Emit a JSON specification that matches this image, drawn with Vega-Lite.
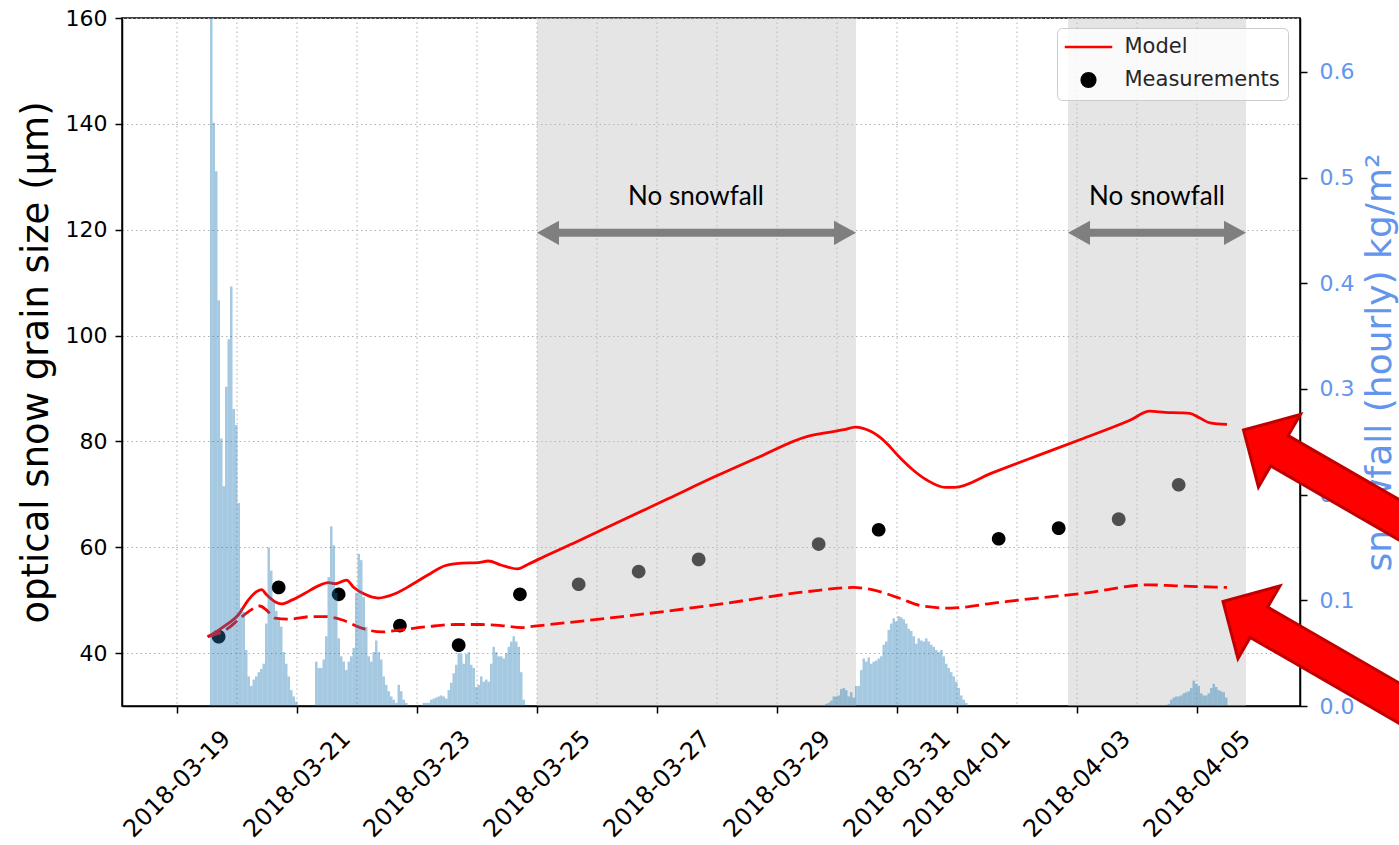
{
  "$schema": "https://vega.github.io/schema/vega-lite/v6.json",
  "width": 1178,
  "height": 688,
  "autosize": {"type": "none"},
  "padding": {"left": 122, "top": 18, "right": 99, "bottom": 139},
  "background": "white",
  "config": {
    "font": "DejaVu Sans",
    "view": {"stroke": "#000000", "strokeWidth": 1.5},
    "axis": {
      "labelFont": "DejaVu Sans",
      "titleFont": "DejaVu Sans",
      "titleFontWeight": "normal",
      "labelColor": "#000000",
      "titleColor": "#000000",
      "domainColor": "#000000",
      "tickColor": "#000000",
      "domainWidth": 1.5,
      "tickWidth": 1.5,
      "titleLimit": 2000,
      "zindex": 0
    }
  },
  "datasets": {
    "days": [
      {"day": "2018-03-19T00:00"}, {"day": "2018-03-20T00:00"}, {"day": "2018-03-21T00:00"},
      {"day": "2018-03-22T00:00"}, {"day": "2018-03-23T00:00"}, {"day": "2018-03-24T00:00"},
      {"day": "2018-03-25T00:00"}, {"day": "2018-03-26T00:00"}, {"day": "2018-03-27T00:00"},
      {"day": "2018-03-28T00:00"}, {"day": "2018-03-29T00:00"}, {"day": "2018-03-30T00:00"},
      {"day": "2018-03-31T00:00"}, {"day": "2018-04-01T00:00"}, {"day": "2018-04-02T00:00"},
      {"day": "2018-04-03T00:00"}, {"day": "2018-04-04T00:00"}, {"day": "2018-04-05T00:00"}
    ],
    "dry": [
      {"start": "2018-03-25T00:00", "end": "2018-03-30T07:36"},
      {"start": "2018-04-02T20:24", "end": "2018-04-05T19:36"}
    ],
    "notes": [
      {"t": "2018-03-27T15:36", "label": "No snowfall"},
      {"t": "2018-04-04T08:00", "label": "No snowfall"}
    ],
    "pointers": [
      {"t": "2018-04-05T18:36", "grain": 82.15},
      {"t": "2018-04-05T10:24", "grain": 49.75}
    ],
    "measured": [
      {"t": "2018-03-19T16:40", "grain": 43.1, "series": "Measurements"},
      {"t": "2018-03-20T16:40", "grain": 52.4, "series": "Measurements"},
      {"t": "2018-03-21T16:40", "grain": 51.1, "series": "Measurements"},
      {"t": "2018-03-22T17:10", "grain": 45.2, "series": "Measurements"},
      {"t": "2018-03-23T16:40", "grain": 41.5, "series": "Measurements"},
      {"t": "2018-03-24T17:10", "grain": 51.1, "series": "Measurements"},
      {"t": "2018-03-25T16:40", "grain": 53.0, "series": "Measurements"},
      {"t": "2018-03-26T16:40", "grain": 55.4, "series": "Measurements"},
      {"t": "2018-03-27T16:40", "grain": 57.7, "series": "Measurements"},
      {"t": "2018-03-29T16:40", "grain": 60.6, "series": "Measurements"},
      {"t": "2018-03-30T16:40", "grain": 63.3, "series": "Measurements"},
      {"t": "2018-04-01T16:40", "grain": 61.6, "series": "Measurements"},
      {"t": "2018-04-02T16:40", "grain": 63.6, "series": "Measurements"},
      {"t": "2018-04-03T16:40", "grain": 65.3, "series": "Measurements"},
      {"t": "2018-04-04T16:40", "grain": 71.8, "series": "Measurements"}
    ],
    "model": [
      {"t": "2018-03-19T12:15", "grain": 43.1, "series": "Model"},
      {"t": "2018-03-19T16:30", "grain": 44.3, "series": "Model"},
      {"t": "2018-03-19T20:30", "grain": 45.6, "series": "Model"},
      {"t": "2018-03-20T00:30", "grain": 47.2, "series": "Model"},
      {"t": "2018-03-20T04:30", "grain": 50.0, "series": "Model"},
      {"t": "2018-03-20T07:50", "grain": 51.6, "series": "Model"},
      {"t": "2018-03-20T09:50", "grain": 52.0, "series": "Model"},
      {"t": "2018-03-20T11:50", "grain": 51.0, "series": "Model"},
      {"t": "2018-03-20T15:10", "grain": 49.7, "series": "Model"},
      {"t": "2018-03-20T17:50", "grain": 49.3, "series": "Model"},
      {"t": "2018-03-20T21:50", "grain": 50.0, "series": "Model"},
      {"t": "2018-03-21T03:10", "grain": 51.3, "series": "Model"},
      {"t": "2018-03-21T08:30", "grain": 52.7, "series": "Model"},
      {"t": "2018-03-21T12:30", "grain": 53.3, "series": "Model"},
      {"t": "2018-03-21T15:10", "grain": 53.1, "series": "Model"},
      {"t": "2018-03-21T19:50", "grain": 53.8, "series": "Model"},
      {"t": "2018-03-21T22:30", "grain": 52.5, "series": "Model"},
      {"t": "2018-03-22T03:10", "grain": 51.1, "series": "Model"},
      {"t": "2018-03-22T08:30", "grain": 50.4, "series": "Model"},
      {"t": "2018-03-22T15:10", "grain": 51.2, "series": "Model"},
      {"t": "2018-03-22T21:50", "grain": 52.9, "series": "Model"},
      {"t": "2018-03-23T04:30", "grain": 54.8, "series": "Model"},
      {"t": "2018-03-23T11:10", "grain": 56.5, "series": "Model"},
      {"t": "2018-03-23T17:50", "grain": 57.0, "series": "Model"},
      {"t": "2018-03-24T00:30", "grain": 57.1, "series": "Model"},
      {"t": "2018-03-24T04:30", "grain": 57.4, "series": "Model"},
      {"t": "2018-03-24T09:50", "grain": 56.6, "series": "Model"},
      {"t": "2018-03-24T16:15", "grain": 55.9, "series": "Model"},
      {"t": "2018-03-24T20:30", "grain": 56.8, "series": "Model"},
      {"t": "2018-03-25T03:10", "grain": 58.3, "series": "Model"},
      {"t": "2018-03-25T15:40", "grain": 61.0, "series": "Model"},
      {"t": "2018-03-26T10:05", "grain": 65.1, "series": "Model"},
      {"t": "2018-03-27T04:35", "grain": 69.2, "series": "Model"},
      {"t": "2018-03-27T23:00", "grain": 73.3, "series": "Model"},
      {"t": "2018-03-28T17:30", "grain": 77.2, "series": "Model"},
      {"t": "2018-03-29T11:55", "grain": 80.9, "series": "Model"},
      {"t": "2018-03-29T19:20", "grain": 81.6, "series": "Model"},
      {"t": "2018-03-30T02:45", "grain": 82.2, "series": "Model"},
      {"t": "2018-03-30T07:20", "grain": 82.7, "series": "Model"},
      {"t": "2018-03-30T13:50", "grain": 81.8, "series": "Model"},
      {"t": "2018-03-30T19:20", "grain": 79.9, "series": "Model"},
      {"t": "2018-03-31T00:50", "grain": 77.1, "series": "Model"},
      {"t": "2018-03-31T06:25", "grain": 74.6, "series": "Model"},
      {"t": "2018-03-31T11:55", "grain": 72.7, "series": "Model"},
      {"t": "2018-03-31T19:20", "grain": 71.3, "series": "Model"},
      {"t": "2018-03-31T23:00", "grain": 71.3, "series": "Model"},
      {"t": "2018-04-01T13:50", "grain": 74.0, "series": "Model"},
      {"t": "2018-04-02T08:15", "grain": 77.3, "series": "Model"},
      {"t": "2018-04-03T02:45", "grain": 80.6, "series": "Model"},
      {"t": "2018-04-03T21:10", "grain": 84.0, "series": "Model"},
      {"t": "2018-04-04T05:10", "grain": 85.7, "series": "Model"},
      {"t": "2018-04-04T11:10", "grain": 85.5, "series": "Model"},
      {"t": "2018-04-04T17:10", "grain": 85.4, "series": "Model"},
      {"t": "2018-04-04T21:10", "grain": 85.3, "series": "Model"},
      {"t": "2018-04-05T01:10", "grain": 84.4, "series": "Model"},
      {"t": "2018-04-05T05:10", "grain": 83.5, "series": "Model"},
      {"t": "2018-04-05T12:00", "grain": 83.2, "series": "Model"}
    ],
    "dashed": [
      {"t": "2018-03-19T12:15", "grain": 43.1},
      {"t": "2018-03-19T20:30", "grain": 44.7},
      {"t": "2018-03-20T00:30", "grain": 46.3},
      {"t": "2018-03-20T04:30", "grain": 47.8},
      {"t": "2018-03-20T09:10", "grain": 48.9},
      {"t": "2018-03-20T11:50", "grain": 48.1},
      {"t": "2018-03-20T15:10", "grain": 46.6},
      {"t": "2018-03-20T20:30", "grain": 46.4},
      {"t": "2018-03-21T05:50", "grain": 46.9},
      {"t": "2018-03-21T11:10", "grain": 46.9},
      {"t": "2018-03-21T17:50", "grain": 46.3},
      {"t": "2018-03-22T01:50", "grain": 44.7},
      {"t": "2018-03-22T09:50", "grain": 44.0},
      {"t": "2018-03-22T17:50", "grain": 44.4},
      {"t": "2018-03-23T04:30", "grain": 45.0},
      {"t": "2018-03-23T15:10", "grain": 45.4},
      {"t": "2018-03-24T01:50", "grain": 45.4},
      {"t": "2018-03-24T09:50", "grain": 45.2},
      {"t": "2018-03-24T17:50", "grain": 44.8},
      {"t": "2018-03-24T21:10", "grain": 45.0},
      {"t": "2018-03-25T03:10", "grain": 45.3},
      {"t": "2018-03-26T10:05", "grain": 46.9},
      {"t": "2018-03-27T23:00", "grain": 49.1},
      {"t": "2018-03-29T11:55", "grain": 51.6},
      {"t": "2018-03-30T06:25", "grain": 52.4},
      {"t": "2018-03-30T15:40", "grain": 51.8},
      {"t": "2018-03-31T00:50", "grain": 50.4},
      {"t": "2018-03-31T10:05", "grain": 48.9},
      {"t": "2018-03-31T21:10", "grain": 48.5},
      {"t": "2018-04-01T13:50", "grain": 49.4},
      {"t": "2018-04-02T08:15", "grain": 50.4},
      {"t": "2018-04-03T02:45", "grain": 51.3},
      {"t": "2018-04-04T04:35", "grain": 52.9},
      {"t": "2018-04-04T15:35", "grain": 52.7},
      {"t": "2018-04-05T12:00", "grain": 52.4}
    ],
    "snow": [
      {"t": "2018-03-19T13:00", "snow": 0.68},
      {"t": "2018-03-19T14:00", "snow": 0.552},
      {"t": "2018-03-19T15:00", "snow": 0.506},
      {"t": "2018-03-19T16:00", "snow": 0.384},
      {"t": "2018-03-19T17:00", "snow": 0.253},
      {"t": "2018-03-19T18:00", "snow": 0.208},
      {"t": "2018-03-19T19:00", "snow": 0.302},
      {"t": "2018-03-19T20:00", "snow": 0.347},
      {"t": "2018-03-19T21:00", "snow": 0.397},
      {"t": "2018-03-19T22:00", "snow": 0.281},
      {"t": "2018-03-19T23:00", "snow": 0.266},
      {"t": "2018-03-20T00:00", "snow": 0.192},
      {"t": "2018-03-20T01:00", "snow": 0.093},
      {"t": "2018-03-20T02:00", "snow": 0.089},
      {"t": "2018-03-20T03:00", "snow": 0.053},
      {"t": "2018-03-20T04:00", "snow": 0.028},
      {"t": "2018-03-20T05:00", "snow": 0.019},
      {"t": "2018-03-20T06:00", "snow": 0.025},
      {"t": "2018-03-20T07:00", "snow": 0.028},
      {"t": "2018-03-20T08:00", "snow": 0.032},
      {"t": "2018-03-20T09:00", "snow": 0.035},
      {"t": "2018-03-20T10:00", "snow": 0.040},
      {"t": "2018-03-20T11:00", "snow": 0.078},
      {"t": "2018-03-20T12:00", "snow": 0.150},
      {"t": "2018-03-20T13:00", "snow": 0.128},
      {"t": "2018-03-20T14:00", "snow": 0.099},
      {"t": "2018-03-20T15:00", "snow": 0.090},
      {"t": "2018-03-20T16:00", "snow": 0.082},
      {"t": "2018-03-20T17:00", "snow": 0.075},
      {"t": "2018-03-20T18:00", "snow": 0.051},
      {"t": "2018-03-20T19:00", "snow": 0.040},
      {"t": "2018-03-20T20:00", "snow": 0.028},
      {"t": "2018-03-20T21:00", "snow": 0.015},
      {"t": "2018-03-20T22:00", "snow": 0.009},
      {"t": "2018-03-20T23:00", "snow": 0.004},
      {"t": "2018-03-21T07:00", "snow": 0.042},
      {"t": "2018-03-21T08:00", "snow": 0.036},
      {"t": "2018-03-21T09:00", "snow": 0.036},
      {"t": "2018-03-21T10:00", "snow": 0.044},
      {"t": "2018-03-21T11:00", "snow": 0.066},
      {"t": "2018-03-21T12:00", "snow": 0.122},
      {"t": "2018-03-21T13:00", "snow": 0.170},
      {"t": "2018-03-21T14:00", "snow": 0.152},
      {"t": "2018-03-21T15:00", "snow": 0.107},
      {"t": "2018-03-21T16:00", "snow": 0.064},
      {"t": "2018-03-21T17:00", "snow": 0.047},
      {"t": "2018-03-21T18:00", "snow": 0.042},
      {"t": "2018-03-21T19:00", "snow": 0.034},
      {"t": "2018-03-21T20:00", "snow": 0.042},
      {"t": "2018-03-21T21:00", "snow": 0.047},
      {"t": "2018-03-21T22:00", "snow": 0.055},
      {"t": "2018-03-21T23:00", "snow": 0.107},
      {"t": "2018-03-22T00:00", "snow": 0.144},
      {"t": "2018-03-22T01:00", "snow": 0.138},
      {"t": "2018-03-22T02:00", "snow": 0.103},
      {"t": "2018-03-22T03:00", "snow": 0.075},
      {"t": "2018-03-22T04:00", "snow": 0.047},
      {"t": "2018-03-22T05:00", "snow": 0.042},
      {"t": "2018-03-22T06:00", "snow": 0.051},
      {"t": "2018-03-22T07:00", "snow": 0.062},
      {"t": "2018-03-22T08:00", "snow": 0.051},
      {"t": "2018-03-22T09:00", "snow": 0.044},
      {"t": "2018-03-22T10:00", "snow": 0.028},
      {"t": "2018-03-22T11:00", "snow": 0.020},
      {"t": "2018-03-22T12:00", "snow": 0.014},
      {"t": "2018-03-22T13:00", "snow": 0.009},
      {"t": "2018-03-22T14:00", "snow": 0.006},
      {"t": "2018-03-22T15:00", "snow": 0.003},
      {"t": "2018-03-22T16:00", "snow": 0.020},
      {"t": "2018-03-22T17:00", "snow": 0.014},
      {"t": "2018-03-22T18:00", "snow": 0.006},
      {"t": "2018-03-22T19:00", "snow": 0.003},
      {"t": "2018-03-23T02:00", "snow": 0.003},
      {"t": "2018-03-23T03:00", "snow": 0.003},
      {"t": "2018-03-23T04:00", "snow": 0.003},
      {"t": "2018-03-23T05:00", "snow": 0.006},
      {"t": "2018-03-23T06:00", "snow": 0.007},
      {"t": "2018-03-23T07:00", "snow": 0.008},
      {"t": "2018-03-23T08:00", "snow": 0.009},
      {"t": "2018-03-23T09:00", "snow": 0.010},
      {"t": "2018-03-23T10:00", "snow": 0.009},
      {"t": "2018-03-23T11:00", "snow": 0.007},
      {"t": "2018-03-23T12:00", "snow": 0.015},
      {"t": "2018-03-23T13:00", "snow": 0.022},
      {"t": "2018-03-23T14:00", "snow": 0.031},
      {"t": "2018-03-23T15:00", "snow": 0.039},
      {"t": "2018-03-23T16:00", "snow": 0.050},
      {"t": "2018-03-23T17:00", "snow": 0.049},
      {"t": "2018-03-23T18:00", "snow": 0.040},
      {"t": "2018-03-23T19:00", "snow": 0.049},
      {"t": "2018-03-23T20:00", "snow": 0.051},
      {"t": "2018-03-23T21:00", "snow": 0.039},
      {"t": "2018-03-23T22:00", "snow": 0.036},
      {"t": "2018-03-23T23:00", "snow": 0.018},
      {"t": "2018-03-24T00:00", "snow": 0.020},
      {"t": "2018-03-24T01:00", "snow": 0.028},
      {"t": "2018-03-24T02:00", "snow": 0.023},
      {"t": "2018-03-24T03:00", "snow": 0.025},
      {"t": "2018-03-24T04:00", "snow": 0.023},
      {"t": "2018-03-24T05:00", "snow": 0.040},
      {"t": "2018-03-24T06:00", "snow": 0.056},
      {"t": "2018-03-24T07:00", "snow": 0.051},
      {"t": "2018-03-24T08:00", "snow": 0.047},
      {"t": "2018-03-24T09:00", "snow": 0.047},
      {"t": "2018-03-24T10:00", "snow": 0.045},
      {"t": "2018-03-24T11:00", "snow": 0.050},
      {"t": "2018-03-24T12:00", "snow": 0.056},
      {"t": "2018-03-24T13:00", "snow": 0.061},
      {"t": "2018-03-24T14:00", "snow": 0.066},
      {"t": "2018-03-24T15:00", "snow": 0.061},
      {"t": "2018-03-24T16:00", "snow": 0.056},
      {"t": "2018-03-24T17:00", "snow": 0.032},
      {"t": "2018-03-24T18:00", "snow": 0.006},
      {"t": "2018-03-29T19:00", "snow": 0.002},
      {"t": "2018-03-29T20:00", "snow": 0.003},
      {"t": "2018-03-29T21:00", "snow": 0.005},
      {"t": "2018-03-29T22:00", "snow": 0.009},
      {"t": "2018-03-29T23:00", "snow": 0.009},
      {"t": "2018-03-30T00:00", "snow": 0.010},
      {"t": "2018-03-30T01:00", "snow": 0.016},
      {"t": "2018-03-30T02:00", "snow": 0.017},
      {"t": "2018-03-30T03:00", "snow": 0.015},
      {"t": "2018-03-30T04:00", "snow": 0.009},
      {"t": "2018-03-30T05:00", "snow": 0.013},
      {"t": "2018-03-30T06:00", "snow": 0.008},
      {"t": "2018-03-30T07:00", "snow": 0.019},
      {"t": "2018-03-30T08:00", "snow": 0.019},
      {"t": "2018-03-30T09:00", "snow": 0.034},
      {"t": "2018-03-30T10:00", "snow": 0.045},
      {"t": "2018-03-30T11:00", "snow": 0.042},
      {"t": "2018-03-30T12:00", "snow": 0.046},
      {"t": "2018-03-30T13:00", "snow": 0.040},
      {"t": "2018-03-30T14:00", "snow": 0.042},
      {"t": "2018-03-30T15:00", "snow": 0.043},
      {"t": "2018-03-30T16:00", "snow": 0.045},
      {"t": "2018-03-30T17:00", "snow": 0.047},
      {"t": "2018-03-30T18:00", "snow": 0.058},
      {"t": "2018-03-30T19:00", "snow": 0.061},
      {"t": "2018-03-30T20:00", "snow": 0.072},
      {"t": "2018-03-30T21:00", "snow": 0.078},
      {"t": "2018-03-30T22:00", "snow": 0.083},
      {"t": "2018-03-30T23:00", "snow": 0.080},
      {"t": "2018-03-31T00:00", "snow": 0.085},
      {"t": "2018-03-31T01:00", "snow": 0.084},
      {"t": "2018-03-31T02:00", "snow": 0.082},
      {"t": "2018-03-31T03:00", "snow": 0.078},
      {"t": "2018-03-31T04:00", "snow": 0.073},
      {"t": "2018-03-31T05:00", "snow": 0.071},
      {"t": "2018-03-31T06:00", "snow": 0.066},
      {"t": "2018-03-31T07:00", "snow": 0.059},
      {"t": "2018-03-31T08:00", "snow": 0.064},
      {"t": "2018-03-31T09:00", "snow": 0.062},
      {"t": "2018-03-31T10:00", "snow": 0.061},
      {"t": "2018-03-31T11:00", "snow": 0.064},
      {"t": "2018-03-31T12:00", "snow": 0.061},
      {"t": "2018-03-31T13:00", "snow": 0.058},
      {"t": "2018-03-31T14:00", "snow": 0.056},
      {"t": "2018-03-31T15:00", "snow": 0.053},
      {"t": "2018-03-31T16:00", "snow": 0.051},
      {"t": "2018-03-31T17:00", "snow": 0.053},
      {"t": "2018-03-31T18:00", "snow": 0.047},
      {"t": "2018-03-31T19:00", "snow": 0.040},
      {"t": "2018-03-31T20:00", "snow": 0.036},
      {"t": "2018-03-31T21:00", "snow": 0.032},
      {"t": "2018-03-31T22:00", "snow": 0.028},
      {"t": "2018-03-31T23:00", "snow": 0.023},
      {"t": "2018-04-01T00:00", "snow": 0.017},
      {"t": "2018-04-01T01:00", "snow": 0.010},
      {"t": "2018-04-01T02:00", "snow": 0.006},
      {"t": "2018-04-01T03:00", "snow": 0.003},
      {"t": "2018-04-04T10:00", "snow": 0.001},
      {"t": "2018-04-04T11:00", "snow": 0.001},
      {"t": "2018-04-04T12:00", "snow": 0.002},
      {"t": "2018-04-04T13:00", "snow": 0.006},
      {"t": "2018-04-04T14:00", "snow": 0.008},
      {"t": "2018-04-04T15:00", "snow": 0.009},
      {"t": "2018-04-04T16:00", "snow": 0.009},
      {"t": "2018-04-04T17:00", "snow": 0.010},
      {"t": "2018-04-04T18:00", "snow": 0.012},
      {"t": "2018-04-04T19:00", "snow": 0.013},
      {"t": "2018-04-04T20:00", "snow": 0.014},
      {"t": "2018-04-04T21:00", "snow": 0.017},
      {"t": "2018-04-04T22:00", "snow": 0.024},
      {"t": "2018-04-04T23:00", "snow": 0.021},
      {"t": "2018-04-05T00:00", "snow": 0.019},
      {"t": "2018-04-05T01:00", "snow": 0.012},
      {"t": "2018-04-05T02:00", "snow": 0.010},
      {"t": "2018-04-05T03:00", "snow": 0.010},
      {"t": "2018-04-05T04:00", "snow": 0.012},
      {"t": "2018-04-05T05:00", "snow": 0.017},
      {"t": "2018-04-05T06:00", "snow": 0.021},
      {"t": "2018-04-05T07:00", "snow": 0.018},
      {"t": "2018-04-05T08:00", "snow": 0.015},
      {"t": "2018-04-05T09:00", "snow": 0.014},
      {"t": "2018-04-05T10:00", "snow": 0.013},
      {"t": "2018-04-05T11:00", "snow": 0.008}
    ]
  },
  "layer": [
    {
      "layer": [
        {
          "data": {"name": "days"},
          "mark": {"type": "rule", "color": "#b0b0b0", "strokeWidth": 1, "strokeDash": [1.5, 3]},
          "encoding": {
            "x": {
              "field": "day", "type": "temporal", "title": null,
              "scale": {"domain": [{"year": 2018, "month": 3, "date": 18, "hours": 2}, {"year": 2018, "month": 4, "date": 6, "hours": 17, "minutes": 12}]},
              "axis": {
                "values": [
                  {"year": 2018, "month": 3, "date": 19}, {"year": 2018, "month": 3, "date": 21},
                  {"year": 2018, "month": 3, "date": 23}, {"year": 2018, "month": 3, "date": 25},
                  {"year": 2018, "month": 3, "date": 27}, {"year": 2018, "month": 3, "date": 29},
                  {"year": 2018, "month": 3, "date": 31}, {"year": 2018, "month": 4, "date": 1},
                  {"year": 2018, "month": 4, "date": 3}, {"year": 2018, "month": 4, "date": 5}
                ],
                "format": "%Y-%m-%d",
                "labelAngle": -45,
                "labelAlign": "center",
                "labelBaseline": "middle",
                "labelPadding": 71,
                "labelFontSize": 24,
                "labelOverlap": false,
                "labelFlush": false,
                "labelBound": false,
                "tickSize": 7,
                "grid": false,
                "title": null
              }
            }
          }
        },
        {
          "data": {"name": "measured"},
          "mark": {"type": "point", "filled": true, "opacity": 1, "size": 361},
          "encoding": {
            "x": {"field": "t", "type": "temporal", "title": null,
              "scale": {"domain": [{"year": 2018, "month": 3, "date": 18, "hours": 2}, {"year": 2018, "month": 4, "date": 6, "hours": 17, "minutes": 12}]}},
            "y": {
              "field": "grain", "type": "quantitative", "title": "optical snow grain size (µm)",
              "scale": {"domain": [30, 160], "nice": false, "zero": false},
              "axis": {
                "values": [40, 60, 80, 100, 120, 140, 160],
                "grid": true, "gridColor": "#b0b0b0", "gridDash": [1.5, 3], "gridWidth": 1,
                "labelFontSize": 22, "labelPadding": 8, "tickSize": 7,
                "titleFontSize": 37, "titlePadding": 10
              }
            },
            "color": {
              "field": "series", "type": "nominal",
              "scale": {"domain": ["Model", "Measurements"], "range": ["#ff0000", "#000000"]},
              "legend": {
                "title": null, "orient": "none", "legendX": 935, "legendY": 10,
                "fillColor": "rgba(255,255,255,0.8)", "strokeColor": "#cccccc", "cornerRadius": 5,
                "padding": 8, "labelFont": "DejaVu Sans", "labelFontSize": 21, "labelColor": "#262626",
                "symbolSize": 361, "symbolOffset": 12.5, "labelOffset": 25, "rowPadding": 11,
                "symbolStrokeWidth": 2.5, "symbolOpacity": 1
              }
            },
            "shape": {"field": "series", "type": "nominal",
              "scale": {"domain": ["Model", "Measurements"],
                "range": ["M-2.5,0H2.5", "M-0.72,0A0.72,0.72,0,1,0,0.72,0A0.72,0.72,0,1,0,-0.72,0Z"]}}
          }
        },
        {
          "data": {"name": "dry"},
          "mark": {"type": "rect", "color": "#c0c0c0", "opacity": 0.41},
          "encoding": {
            "x": {"field": "start", "type": "temporal", "title": null,
              "scale": {"domain": [{"year": 2018, "month": 3, "date": 18, "hours": 2}, {"year": 2018, "month": 4, "date": 6, "hours": 17, "minutes": 12}]}},
            "x2": {"field": "end"}
          }
        },
        {
          "data": {"name": "model"},
          "mark": {"type": "line", "strokeWidth": 2.8, "interpolate": "monotone"},
          "encoding": {
            "x": {"field": "t", "type": "temporal", "title": null,
              "scale": {"domain": [{"year": 2018, "month": 3, "date": 18, "hours": 2}, {"year": 2018, "month": 4, "date": 6, "hours": 17, "minutes": 12}]}},
            "y": {"field": "grain", "type": "quantitative", "title": "optical snow grain size (µm)", "scale": {"domain": [30, 160]}},
            "color": {"field": "series", "type": "nominal"}
          }
        },
        {
          "data": {"name": "dashed"},
          "mark": {"type": "line", "strokeWidth": 2.8, "strokeDash": [14, 6], "color": "#ff0000", "interpolate": "monotone"},
          "encoding": {
            "x": {"field": "t", "type": "temporal", "title": null,
              "scale": {"domain": [{"year": 2018, "month": 3, "date": 18, "hours": 2}, {"year": 2018, "month": 4, "date": 6, "hours": 17, "minutes": 12}]}},
            "y": {"field": "grain", "type": "quantitative", "title": "optical snow grain size (µm)", "scale": {"domain": [30, 160]}}
          }
        }
      ]
    },
    {
      "data": {"name": "snow"},
      "mark": {"type": "bar", "color": "#1f77b4", "opacity": 0.4, "clip": true, "binSpacing": 0},
      "encoding": {
        "x": {"field": "t", "type": "temporal", "timeUnit": "yearmonthdatehours", "title": null,
          "scale": {"domain": [{"year": 2018, "month": 3, "date": 18, "hours": 2}, {"year": 2018, "month": 4, "date": 6, "hours": 17, "minutes": 12}]}},
        "y": {
          "field": "snow", "type": "quantitative", "title": "snowfall (hourly) kg/m²",
          "scale": {"domain": [0, 0.651], "nice": false},
          "axis": {
            "orient": "right",
            "values": [0, 0.1, 0.2, 0.3, 0.4, 0.5, 0.6],
            "format": ".1f",
            "grid": false,
            "labelColor": "#6495ed", "labelFontSize": 22, "labelPadding": 12, "tickSize": 7,
            "titleColor": "#6495ed", "titleFontSize": 36, "titleAngle": 270, "titleBaseline": "top", "titlePadding": 9,
            "zindex": 0
          }
        }
      }
    },
    {
      "layer": [
        {
          "data": {"name": "dry"},
          "mark": {"type": "rule", "color": "#7f7f7f", "strokeWidth": 8, "xOffset": 20, "x2Offset": -20},
          "encoding": {
            "x": {"field": "start", "type": "temporal", "title": null,
              "scale": {"domain": [{"year": 2018, "month": 3, "date": 18, "hours": 2}, {"year": 2018, "month": 4, "date": 6, "hours": 17, "minutes": 12}]}},
            "x2": {"field": "end"},
            "y": {"datum": 119.4, "type": "quantitative", "scale": {"domain": [30, 160]}, "axis": null}
          }
        },
        {
          "data": {"name": "dry"},
          "mark": {"type": "point", "filled": true, "opacity": 1, "color": "#7f7f7f", "size": 484, "shape": "M0,0L2,-1.1L2,1.1Z"},
          "encoding": {
            "x": {"field": "start", "type": "temporal", "title": null},
            "y": {"datum": 119.4, "type": "quantitative", "axis": null}
          }
        },
        {
          "data": {"name": "dry"},
          "mark": {"type": "point", "filled": true, "opacity": 1, "color": "#7f7f7f", "size": 484, "shape": "M0,0L-2,-1.1L-2,1.1Z"},
          "encoding": {
            "x": {"field": "end", "type": "temporal", "title": null},
            "y": {"datum": 119.4, "type": "quantitative", "axis": null}
          }
        },
        {
          "data": {"name": "notes"},
          "mark": {"type": "text", "font": "Lato", "fontSize": 26, "color": "#000000", "align": "center", "baseline": "alphabetic"},
          "encoding": {
            "x": {"field": "t", "type": "temporal", "title": null},
            "y": {"datum": 124.7, "type": "quantitative", "axis": null},
            "text": {"field": "label"}
          }
        },
        {
          "data": {"name": "pointers"},
          "mark": {
            "type": "point", "filled": true, "opacity": 1, "size": 400, "angle": 30,
            "fill": "#ff0000", "stroke": "#c00000", "strokeWidth": 3,
            "shape": "M0,0L4.15,-4.2L4.15,-1.75L27,-1.75L27,1.75L4.15,1.75L4.15,4.2Z"
          },
          "encoding": {
            "x": {"field": "t", "type": "temporal", "title": null},
            "y": {"field": "grain", "type": "quantitative", "axis": null}
          }
        }
      ]
    }
  ],
  "resolve": {"scale": {"y": "independent"}}
}
